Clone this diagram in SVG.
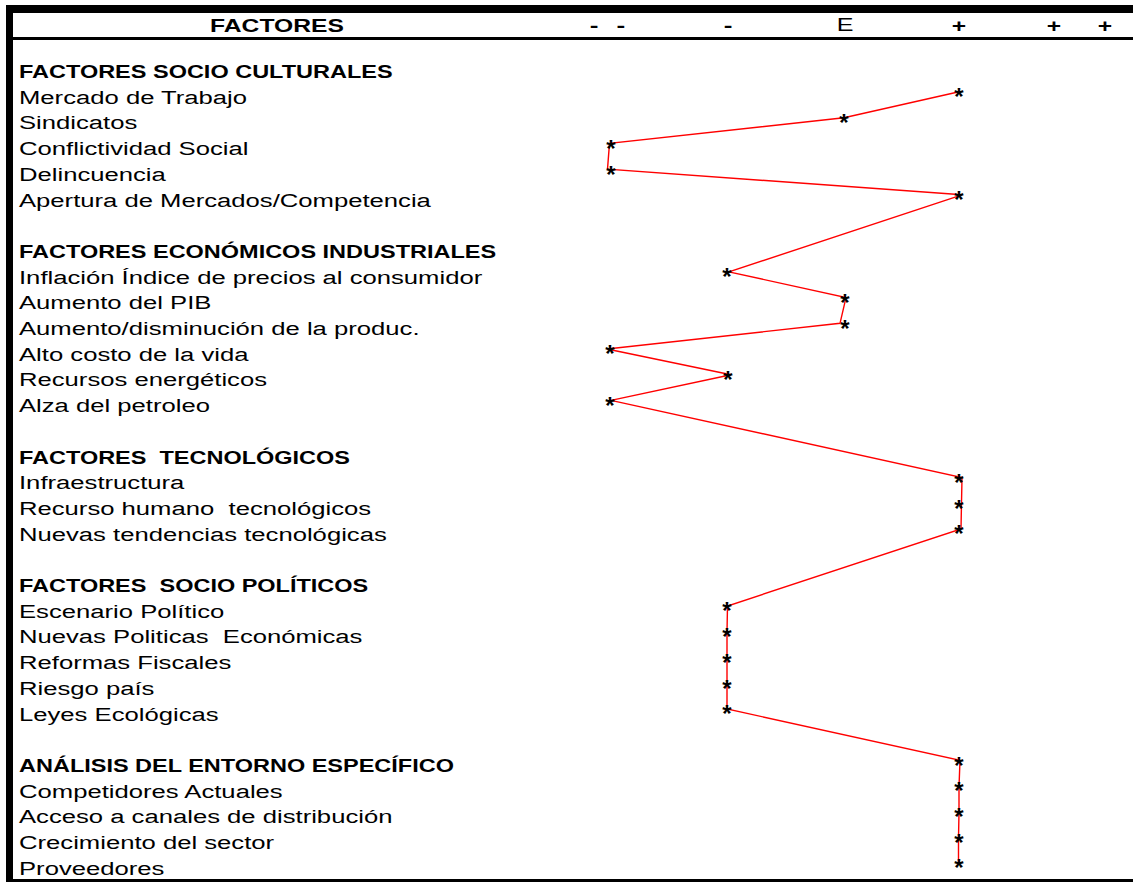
<svg xmlns="http://www.w3.org/2000/svg" width="1133" height="882" viewBox="0 0 1133 882">
  <style>
    text { font-family: "Liberation Sans", Arial, sans-serif; fill: #000; }
    .lbl { font-size: 19px; }
    .sec { font-size: 17.5px; font-weight: bold; }
    .colhead { font-size: 18.7px; font-weight: bold; text-anchor: middle; }
    .colE { font-size: 19px; text-anchor: middle; }
    .star { font-size: 24px; font-weight: bold; text-anchor: middle; }
    .trace { fill: none; stroke: #ff0000; stroke-width: 1.4; stroke-linejoin: miter; }
  </style>

  <rect x="0" y="0" width="1133" height="882" fill="#ffffff"/>

  <!-- frame: thick top bar, left bar, header underline, bottom rule -->
  <g id="frame" fill="#000">
    <rect x="6" y="5" width="1127" height="8"/>
    <rect x="6" y="5" width="7" height="877"/>
    <rect x="13" y="37" width="1120" height="3"/>
    <rect x="13" y="879" width="1120" height="3"/>
  </g>

  <!-- column header -->
  <g id="header">
    <text class="colhead" transform="translate(277,32) scale(1.32,1)">FACTORES</text>
    <text class="colhead" transform="translate(607.5,32) scale(1.4,1)" x="-9.6 0 9.6">- -</text>
    <text class="colhead" transform="translate(728,32) scale(1.4,1)">-</text>
    <text class="colE" transform="translate(845,31) scale(1.32,1)">E</text>
    <text class="colhead" transform="translate(959,32) scale(1.32,1)">+</text>
    <text class="colhead" transform="translate(1054,32) scale(1.32,1)">+</text>
    <text class="colhead" transform="translate(1105,32) scale(1.32,1)">+</text>
  </g>

  <!-- profile line joining the ratings -->
  <g id="connectors">
    <polyline class="trace" points="958,92 844,117.7 609.5,143.4 607.5,169.1 962,194.8 729,271.9 846,297.6 840,323.3 607,349 731,374.7 611,400.4 962,477.5 961.5,503.2 961,528.9 727.5,606 727,632 727,657.5 727,683 727,709 960,760.2 959,787 959,812.5 958.5,838 958.5,863"/>
  </g>

  <!-- FACTORES SOCIO CULTURALES -->
  <g id="sec-socio-culturales">
    <text class="sec" transform="translate(19,78) scale(1.343,1)">FACTORES SOCIO CULTURALES</text>
  </g>
  <g id="mercado-trabajo">
    <text class="lbl" transform="translate(19,103.7) scale(1.35,1)">Mercado de Trabajo</text>
    <text class="star" x="959" y="105.4">*</text>
  </g>
  <g id="sindicatos">
    <text class="lbl" transform="translate(19,129.4) scale(1.35,1)">Sindicatos</text>
    <text class="star" x="844" y="131.1">*</text>
  </g>
  <g id="conflictividad-social">
    <text class="lbl" transform="translate(19,155.1) scale(1.35,1)">Conflictividad Social</text>
    <text class="star" x="611" y="156.8">*</text>
  </g>
  <g id="delincuencia">
    <text class="lbl" transform="translate(19,180.8) scale(1.35,1)">Delincuencia</text>
    <text class="star" x="611" y="182.5">*</text>
  </g>
  <g id="apertura-mercados">
    <text class="lbl" transform="translate(19,206.5) scale(1.35,1)">Apertura de Mercados/Competencia</text>
    <text class="star" x="959" y="208.2">*</text>
  </g>

  <!-- FACTORES ECONÓMICOS INDUSTRIALES -->
  <g id="sec-economicos">
    <text class="sec" transform="translate(19,257.9) scale(1.343,1)">FACTORES ECONÓMICOS INDUSTRIALES</text>
  </g>
  <g id="inflacion">
    <text class="lbl" transform="translate(19,283.6) scale(1.35,1)">Inflación Índice de precios al consumidor</text>
    <text class="star" x="727" y="285.3">*</text>
  </g>
  <g id="aumento-pib">
    <text class="lbl" transform="translate(19,309.3) scale(1.35,1)">Aumento del PIB</text>
    <text class="star" x="845" y="311">*</text>
  </g>
  <g id="produccion">
    <text class="lbl" transform="translate(19,335) scale(1.35,1)">Aumento/disminución de la produc.</text>
    <text class="star" x="845" y="336.7">*</text>
  </g>
  <g id="costo-vida">
    <text class="lbl" transform="translate(19,360.7) scale(1.35,1)">Alto costo de la vida</text>
    <text class="star" x="610" y="362.4">*</text>
  </g>
  <g id="recursos-energeticos">
    <text class="lbl" transform="translate(19,386.4) scale(1.35,1)">Recursos energéticos</text>
    <text class="star" x="728" y="388.1">*</text>
  </g>
  <g id="alza-petroleo">
    <text class="lbl" transform="translate(19,412.1) scale(1.35,1)">Alza del petroleo</text>
    <text class="star" x="610" y="413.8">*</text>
  </g>

  <!-- FACTORES TECNOLÓGICOS -->
  <g id="sec-tecnologicos">
    <text class="sec" transform="translate(19,463.5) scale(1.343,1)" xml:space="preserve">FACTORES  TECNOLÓGICOS</text>
  </g>
  <g id="infraestructura">
    <text class="lbl" transform="translate(19,489.2) scale(1.35,1)">Infraestructura</text>
    <text class="star" x="959" y="490.9">*</text>
  </g>
  <g id="recurso-humano">
    <text class="lbl" transform="translate(19,514.9) scale(1.35,1)" xml:space="preserve">Recurso humano  tecnológicos</text>
    <text class="star" x="959" y="516.6">*</text>
  </g>
  <g id="nuevas-tendencias">
    <text class="lbl" transform="translate(19,540.6) scale(1.35,1)">Nuevas tendencias tecnológicas</text>
    <text class="star" x="959" y="542.3">*</text>
  </g>

  <!-- FACTORES SOCIO POLÍTICOS -->
  <g id="sec-socio-politicos">
    <text class="sec" transform="translate(19,592) scale(1.343,1)" xml:space="preserve">FACTORES  SOCIO POLÍTICOS</text>
  </g>
  <g id="escenario-politico">
    <text class="lbl" transform="translate(19,617.7) scale(1.35,1)">Escenario Político</text>
    <text class="star" x="727" y="619.4">*</text>
  </g>
  <g id="nuevas-politicas">
    <text class="lbl" transform="translate(19,643.4) scale(1.35,1)" xml:space="preserve">Nuevas Politicas  Económicas</text>
    <text class="star" x="727" y="645.1">*</text>
  </g>
  <g id="reformas-fiscales">
    <text class="lbl" transform="translate(19,669.1) scale(1.35,1)">Reformas Fiscales</text>
    <text class="star" x="727" y="670.8">*</text>
  </g>
  <g id="riesgo-pais">
    <text class="lbl" transform="translate(19,694.8) scale(1.35,1)">Riesgo país</text>
    <text class="star" x="727" y="696.5">*</text>
  </g>
  <g id="leyes-ecologicas">
    <text class="lbl" transform="translate(19,720.5) scale(1.35,1)">Leyes Ecológicas</text>
    <text class="star" x="727" y="722.2">*</text>
  </g>

  <!-- ANÁLISIS DEL ENTORNO ESPECÍFICO -->
  <g id="sec-entorno-especifico">
    <text class="sec" transform="translate(19,771.9) scale(1.343,1)">ANÁLISIS DEL ENTORNO ESPECÍFICO</text>
    <text class="star" x="959" y="773.6">*</text>
  </g>
  <g id="competidores">
    <text class="lbl" transform="translate(19,797.6) scale(1.35,1)">Competidores Actuales</text>
    <text class="star" x="959" y="799.3">*</text>
  </g>
  <g id="canales-distribucion">
    <text class="lbl" transform="translate(19,823.3) scale(1.35,1)">Acceso a canales de distribución</text>
    <text class="star" x="959" y="825">*</text>
  </g>
  <g id="crecimiento-sector">
    <text class="lbl" transform="translate(19,849) scale(1.35,1)">Crecimiento del sector</text>
    <text class="star" x="959" y="850.7">*</text>
  </g>
  <g id="proveedores">
    <text class="lbl" transform="translate(19,874.7) scale(1.35,1)">Proveedores</text>
    <text class="star" x="959" y="876.4">*</text>
  </g>
</svg>
